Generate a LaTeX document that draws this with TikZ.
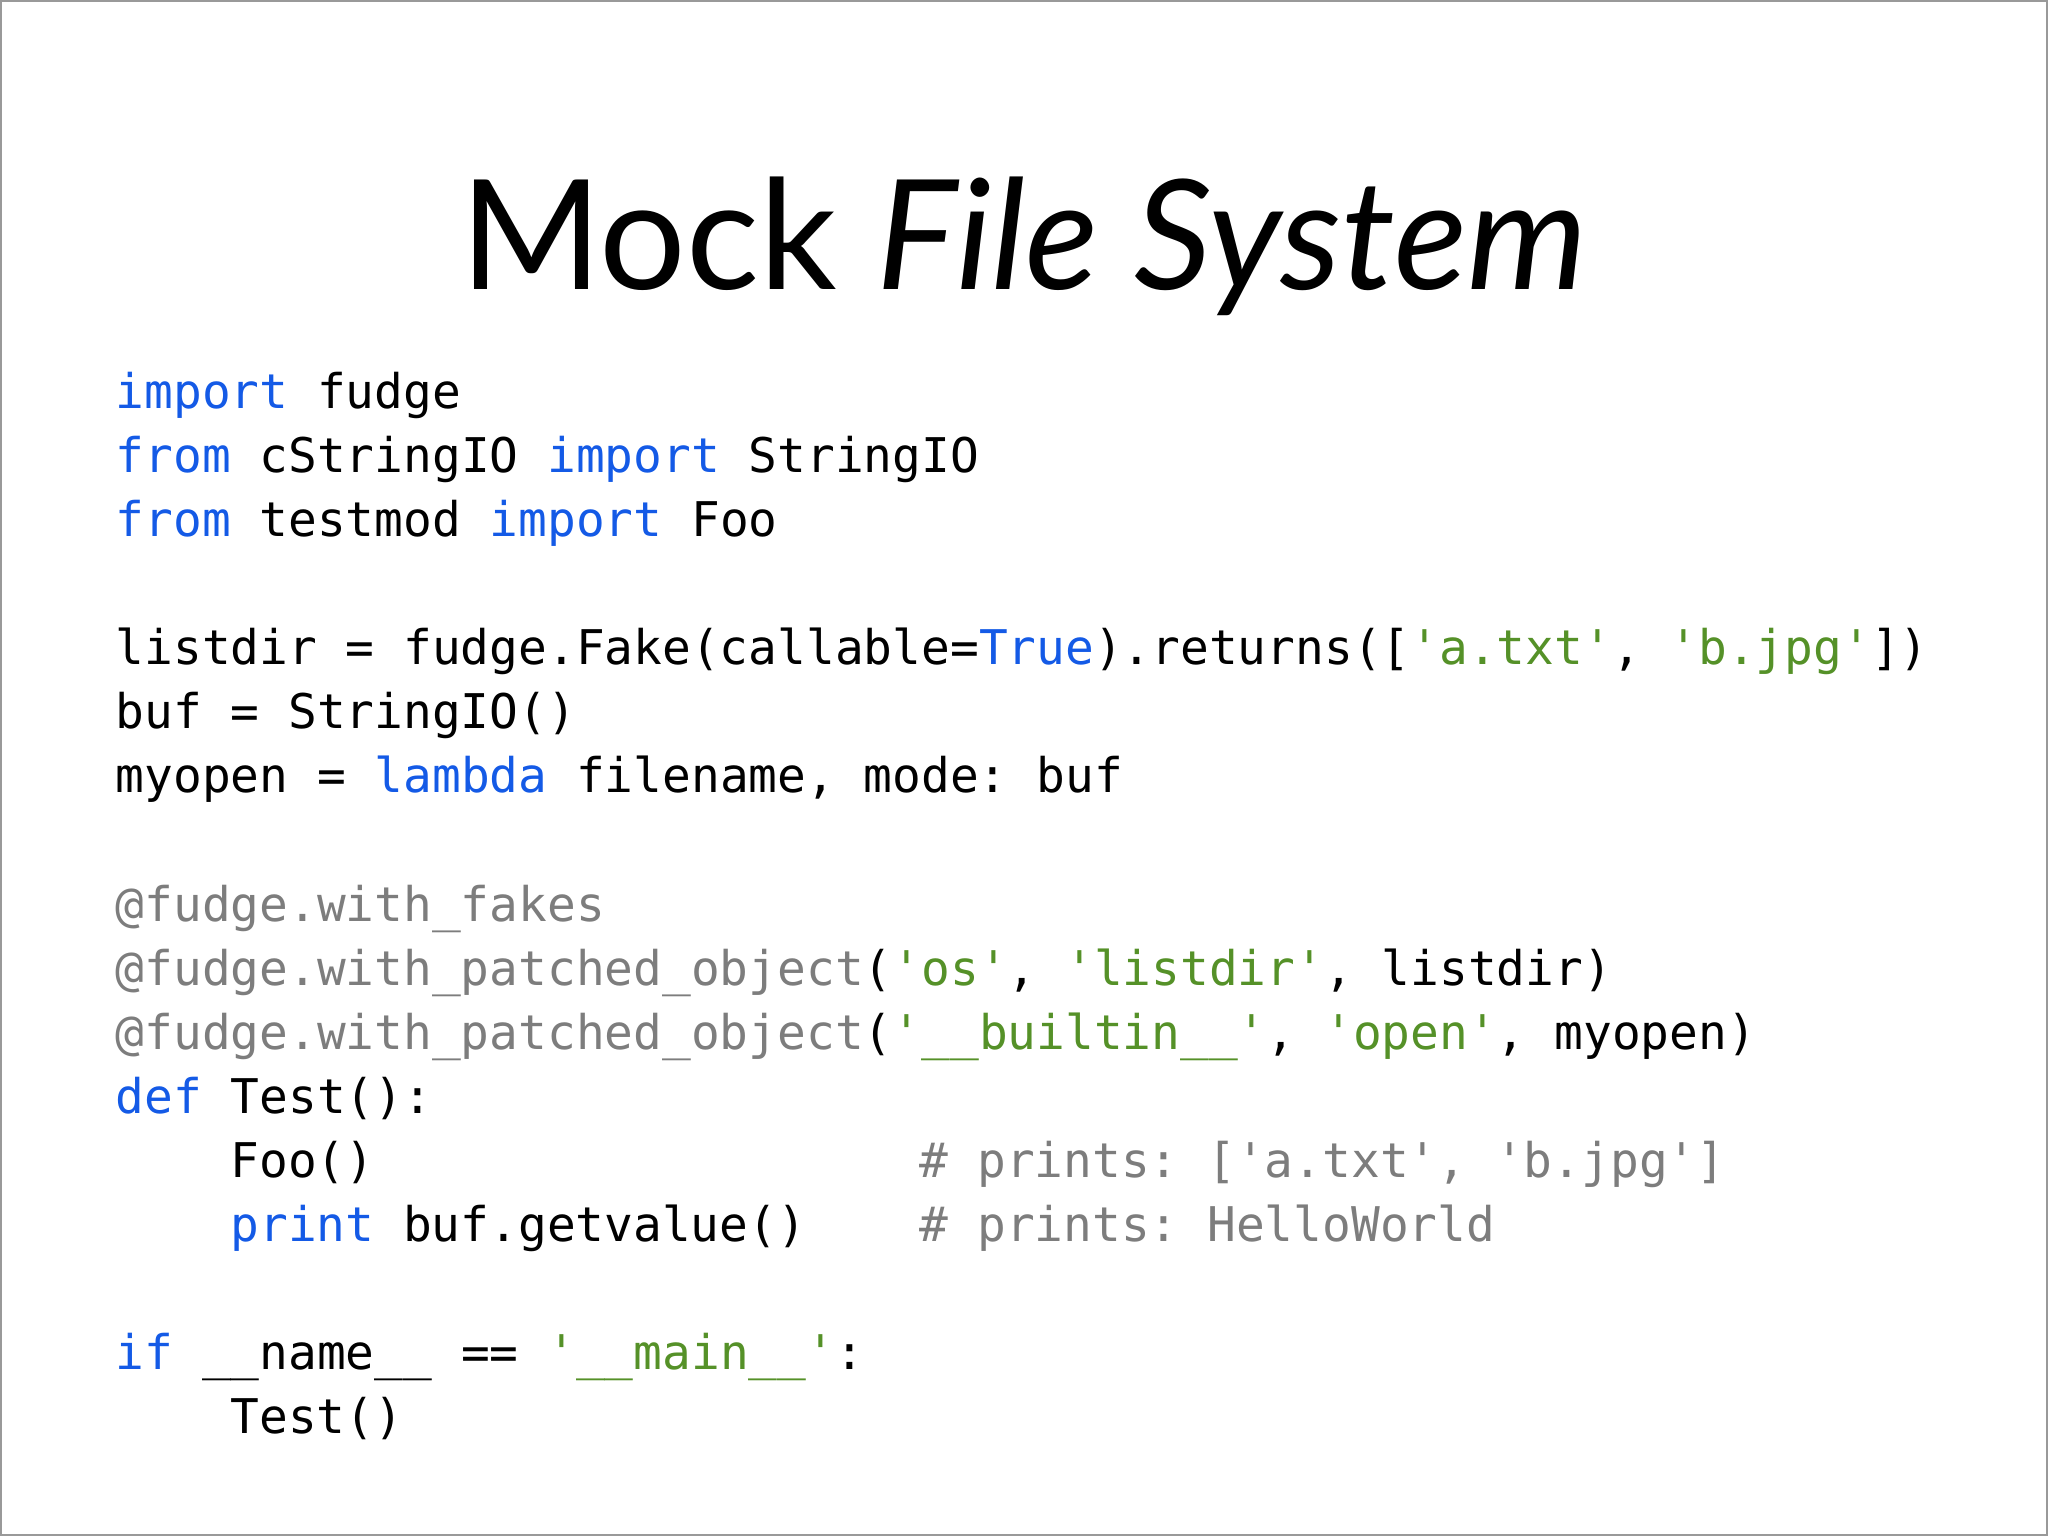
\documentclass[tikz,border=0pt]{standalone}
\usepackage{fontspec}
\setmainfont{Lato}
\newfontfamily\codefont[Ligatures=NoCommon]{DejaVu Sans Mono}
\definecolor{kw}{RGB}{20,90,230}
\definecolor{st}{RGB}{85,145,40}
\definecolor{cm}{RGB}{125,125,125}
\newcommand{\kw}[1]{\textcolor{kw}{#1}}
\newcommand{\st}[1]{\textcolor{st}{#1}}
\newcommand{\cm}[1]{\textcolor{cm}{#1}}
\newcommand{\q}{\char"0027\relax}
\frenchspacing
\tikzset{codeline/.style={anchor=base west,inner sep=0pt,font=\codefont\fontsize{13.6pt}{16pt}\selectfont}}
\begin{document}
\begin{tikzpicture}[x=1cm,y=1cm]
\useasboundingbox (0,0) rectangle (20.48,-15.36);
\draw[gray!80,line width=0.6pt] (0.01,-0.01) rectangle (20.47,-15.35);
\node[anchor=base,inner sep=0pt,font=\fontsize{43.5pt}{46pt}\selectfont] (title) at (10.24,-2.9) {Mock \textit{File System}};
\def\X{1.15}
\def\I{2.298}
\def\C{9.19}
\node[codeline] (l1) at (\X,-4.09) {\kw{import} fudge};
\node[codeline] (l2) at (\X,-4.73) {\kw{from} cStringIO \kw{import} StringIO};
\node[codeline] (l3) at (\X,-5.37) {\kw{from} testmod \kw{import} Foo};
\node[codeline] (l5) at (\X,-6.65) {listdir = fudge.Fake(callable=\kw{True}).returns([\st{\q a.txt\q}, \st{\q b.jpg\q}])};
\node[codeline] (l6) at (\X,-7.29) {buf = StringIO()};
\node[codeline] (l7) at (\X,-7.93) {myopen = \kw{lambda} filename, mode: buf};
\node[codeline] (l9) at (\X,-9.21) {\cm{@fudge.with\_fakes}};
\node[codeline] (l10) at (\X,-9.85) {\cm{@fudge.with\_patched\_object}(\st{\q os\q}, \st{\q listdir\q}, listdir)};
\node[codeline] (l11) at (\X,-10.49) {\cm{@fudge.with\_patched\_object}(\st{\q\_\_builtin\_\_\q}, \st{\q open\q}, myopen)};
\node[codeline] (l12) at (\X,-11.13) {\kw{def} Test():};
\node[codeline] (l13) at (\I,-11.77) {Foo()};
\node[codeline] (c13) at (\C,-11.77) {\cm{\# prints: [\q a.txt\q, \q b.jpg\q]}};
\node[codeline] (l14) at (\I,-12.41) {\kw{print} buf.getvalue()};
\node[codeline] (c14) at (\C,-12.41) {\cm{\# prints: HelloWorld}};
\node[codeline] (l16) at (\X,-13.69) {\kw{if} \_\_name\_\_ == \st{\q\_\_main\_\_\q}:};
\node[codeline] (l17) at (\I,-14.33) {Test()};
\end{tikzpicture}
\end{document}
